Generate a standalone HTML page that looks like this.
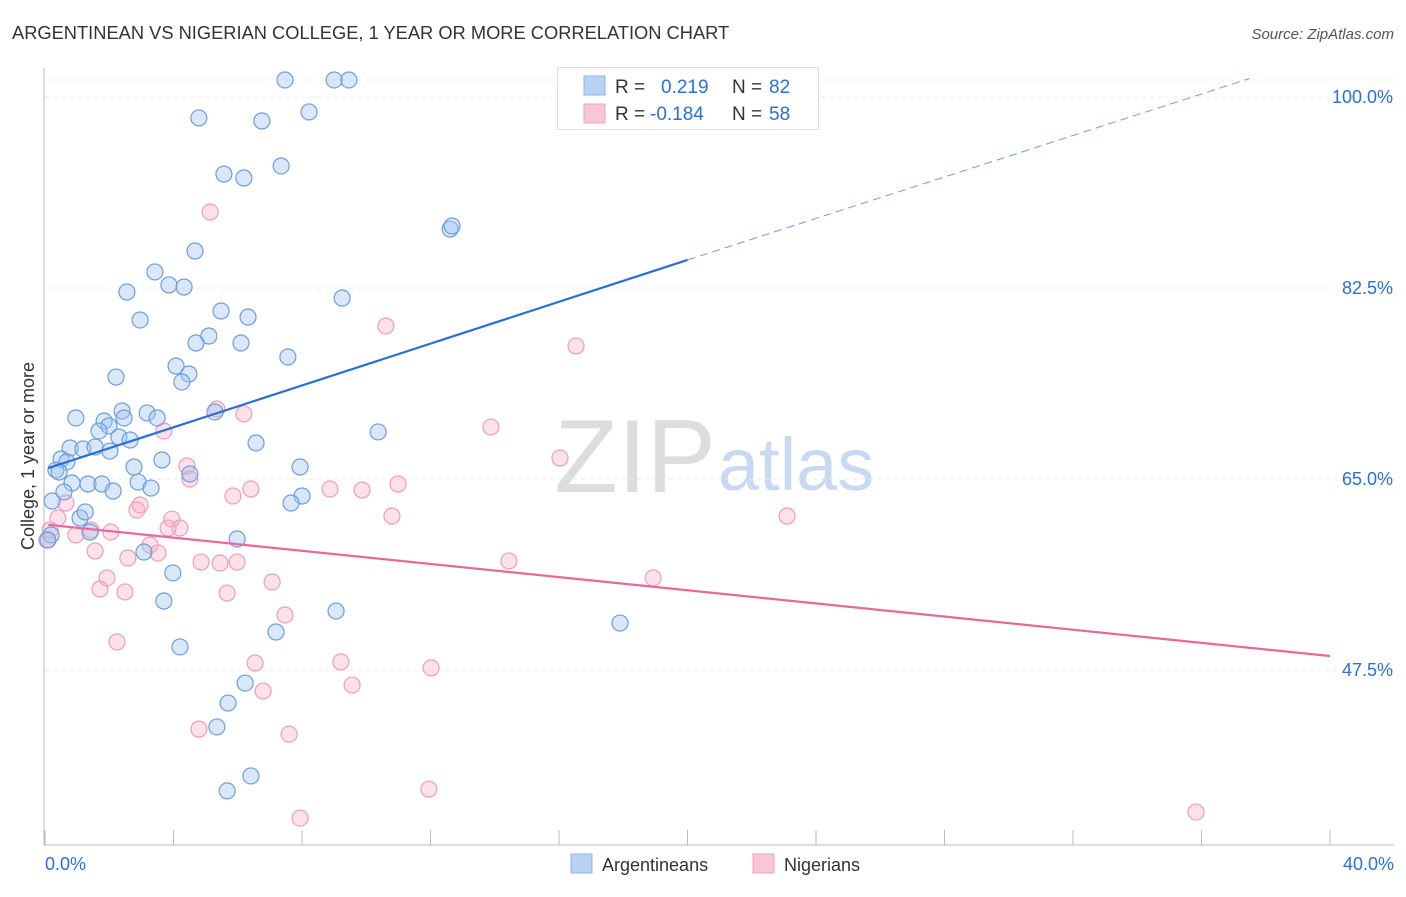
<!DOCTYPE html>
<html><head><meta charset="utf-8"><style>
body{margin:0;background:#fff;font-family:"Liberation Sans",sans-serif;}
svg text{font-family:"Liberation Sans",sans-serif;}
</style></head><body>
<svg id="chart" width="1406" height="892" xmlns="http://www.w3.org/2000/svg">
<text x="12" y="39" font-size="18.3" fill="#333">ARGENTINEAN VS NIGERIAN COLLEGE, 1 YEAR OR MORE CORRELATION CHART</text>
<text x="1394" y="39" font-size="15" fill="#555" text-anchor="end" font-style="italic">Source: ZipAtlas.com</text>
<text x="716" y="492" font-size="104" fill="#ddd" text-anchor="end" font-family="Liberation Serif">ZIP</text>
<text x="718" y="490" font-size="74" fill="#c8daf2">atlas</text>
<text transform="translate(34,456) rotate(-90)" font-size="18" fill="#333" text-anchor="middle">College, 1 year or more</text>
<g id="grid"></g><g id="axes"></g><g id="pts"></g><g id="lines"></g>
<g>
<rect x="557.5" y="67.5" width="261" height="62" fill="#fff" stroke="#ddd"/>
<rect x="584" y="76" width="21" height="19" fill="#b8d2f5" stroke="#8db5e8"/>
<rect x="584" y="104" width="21" height="19" fill="#f9c6d6" stroke="#eba5bd"/>
<text x="615" y="93" font-size="19" fill="#333">R = </text><text x="661" y="93" font-size="19" fill="#2d6fd6">0.219</text>
<text x="732" y="93" font-size="19" fill="#333">N = </text><text x="769" y="93" font-size="19" fill="#2d6fd6">82</text>
<text x="615" y="120" font-size="19" fill="#333">R = </text><text x="650" y="120" font-size="19" fill="#2d6fd6">-0.184</text>
<text x="732" y="120" font-size="19" fill="#333">N = </text><text x="769" y="120" font-size="19" fill="#2d6fd6">58</text>
</g>
<g>
<rect x="571" y="854" width="21" height="19" fill="#b8d2f5" stroke="#8db5e8"/>
<text x="602" y="871" font-size="18" fill="#333">Argentineans</text>
<rect x="753" y="854" width="21" height="19" fill="#f9c6d6" stroke="#eba5bd"/>
<text x="784" y="871" font-size="18" fill="#333">Nigerians</text>
</g>
</svg>
<script>
const yTicks=[100,82.5,65,47.5];
const yTickLabels=["100.0%","82.5%","65.0%","47.5%"];
const xEndLabels=["0.0%","40.0%"];
const blueX=[7.47,9.0,9.46,4.79,6.75,8.22,5.57,6.19,7.35,12.61,12.67,4.67,3.42,3.86,4.33,2.55,9.25,2.96,5.48,6.32,5.1,4.7,6.1,7.56,4.08,4.48,4.26,2.21,0.96,1.84,2.4,3.18,3.49,2.46,5.29,1.99,1.68,2.3,2.65,0.78,1.18,1.56,2.02,6.57,10.37,0.5,0.68,3.64,2.77,7.94,4.51,0.34,0.44,0.84,1.34,1.77,2.12,2.9,3.3,0.59,0.22,8.0,7.66,1.09,1.25,1.4,0.19,0.09,5.98,3.08,3.98,3.7,9.06,7.19,4.2,17.9,6.23,5.7,5.35,6.41,5.67];
const blueY=[101.56,101.56,101.56,98.08,97.8,98.63,92.94,92.58,93.68,87.9,88.18,85.89,83.97,82.78,82.59,82.13,81.58,79.57,80.39,79.84,78.1,77.46,77.46,76.18,75.35,74.62,73.89,74.34,70.59,70.31,71.23,71.05,70.59,70.59,71.14,69.86,69.4,68.85,68.57,67.84,67.75,67.93,67.56,68.3,69.31,66.83,66.56,66.74,66.1,66.1,65.46,65.82,65.64,64.63,64.54,64.54,63.9,64.72,64.17,63.81,62.98,63.44,62.8,61.43,61.98,60.14,59.87,59.41,59.5,58.31,56.39,53.82,52.9,50.98,49.61,51.8,46.3,44.47,42.28,37.79,36.42];
const pinkX=[5.14,10.61,16.53,6.19,5.35,3.7,13.88,16.03,4.42,4.51,5.85,6.41,8.87,9.87,10.99,10.8,23.1,0.65,2.86,2.96,3.95,4.2,3.83,1.43,0.96,2.05,0.4,0.16,0.06,1.56,3.27,3.52,2.58,4.86,5.45,5.98,14.44,18.93,1.93,7.07,1.71,2.49,5.67,7.47,2.24,6.54,9.21,12.02,6.79,9.56,4.79,7.6,11.95,7.94,35.83];
const pinkY=[89.46,79.02,77.19,70.96,71.41,69.4,69.76,66.92,66.19,65.0,63.44,64.08,64.08,63.99,64.54,61.61,61.61,62.8,62.16,62.62,61.33,60.51,60.51,60.33,59.87,60.14,61.43,60.33,59.41,58.4,58.95,58.22,57.76,57.39,57.3,57.39,57.49,55.93,55.93,55.56,54.92,54.65,54.55,52.54,50.07,48.14,48.24,47.69,45.57,46.12,42.08,41.62,36.58,33.93,34.48];
const blueLineX=[0.1,20,37.5];
const blueLineY=[66.0,85.07,101.7];
const pinkLineX=[0.1,40];
const pinkLineY=[60.8,48.78];
const X=v=>45+v*32.125, Y=v=>97+(100-v)*10.914;
const NS="http://www.w3.org/2000/svg";
function mk(p,t,a){const e=document.createElementNS(NS,t);for(const k in a)e.setAttribute(k,a[k]);p.appendChild(e);return e;}
const grid=document.getElementById('grid'),axes=document.getElementById('axes'),pts=document.getElementById('pts'),lines=document.getElementById('lines');
const gt=mk(grid,'line',{x1:45,x2:1394,y1:80,y2:80,stroke:'#e8e8e8','stroke-dasharray':'4,4'});


yTicks.forEach((v,i)=>{
 const g=mk(grid,'line',{x1:45,x2:1394,y1:Y(v),y2:Y(v),stroke:'#e8e8e8','stroke-dasharray':'4,4'});
 
 
 const t=mk(axes,'text',{x:1393,y:Y(v)+6,'font-size':18,fill:'#2d6fd6','text-anchor':'end'});
 t.textContent=yTickLabels[i];
 
 
});
const ax=mk(axes,'line',{x1:44,x2:44,y1:68,y2:845,stroke:'#bbb'});


const bx=mk(axes,'line',{x1:44,x2:1394,y1:845,y2:845,stroke:'#bbb'});


for(let i=0;i<=10;i++){
 const t=mk(axes,'line',{x1:X(i*4),x2:X(i*4),y1:830,y2:845,stroke:'#bbb'});
 
 
}
const xl0=mk(axes,'text',{x:45,y:870,'font-size':18,fill:'#2d6fd6'});xl0.textContent=xEndLabels[0];


const xl1=mk(axes,'text',{x:1394,y:870,'font-size':18,fill:'#2d6fd6','text-anchor':'end'});xl1.textContent=xEndLabels[1];


pinkX.forEach((v,i)=>{
 const c=mk(pts,'circle',{cx:X(v),cy:Y(pinkY[i]),r:8,fill:'rgba(245,170,195,0.35)',stroke:'#eb9fb9','stroke-width':1.2});
 
 
});
blueX.forEach((v,i)=>{
 const c=mk(pts,'circle',{cx:X(v),cy:Y(blueY[i]),r:8,fill:'rgba(160,195,240,0.4)',stroke:'#6d9edc','stroke-width':1.2});
 
 
});
const bl=mk(lines,'line',{x1:X(blueLineX[0]),y1:Y(blueLineY[0]),x2:X(blueLineX[1]),y2:Y(blueLineY[1]),stroke:'#2a6fd6','stroke-width':2.2});


const bd=mk(lines,'line',{x1:X(blueLineX[1]),y1:Y(blueLineY[1]),x2:X(blueLineX[2]),y2:Y(blueLineY[2]),stroke:'#6d9edc','stroke-width':1,'stroke-dasharray':'8,5'});


const pl=mk(lines,'line',{x1:X(pinkLineX[0]),y1:Y(pinkLineY[0]),x2:X(pinkLineX[1]),y2:Y(pinkLineY[1]),stroke:'#e8689a','stroke-width':2.2});


</script>
</body></html>
